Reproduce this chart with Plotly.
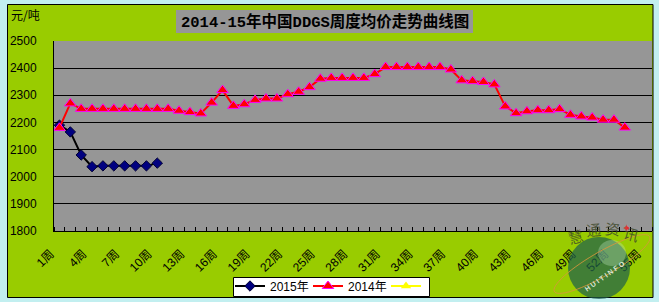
import numpy as np
import plotly.graph_objects as go

# ---------------- data ----------------
week_tickvals = [1, 4, 7, 10, 13, 16, 19, 22, 25, 28, 31, 34, 37, 40, 43, 46, 49, 52, 55]
week_ticktext = ["1周", "4周", "7周", "10周", "13周", "16周", "19周", "22周", "25周", "28周",
                 "31周", "34周", "37周", "40周", "43周", "46周", "49周", "52周", "55周"]

weeks_2015 = list(range(1, 11))
price_2015 = [2190, 2165, 2080, 2037, 2040, 2040, 2040, 2040, 2040, 2050]

weeks_2014 = list(range(1, 54))
price_2014 = [2180, 2270, 2250, 2250, 2250, 2250, 2250, 2250, 2250, 2250, 2250,
              2243, 2238, 2233, 2273, 2319, 2261, 2267, 2283, 2288, 2288, 2304,
              2313, 2330, 2361, 2364, 2364, 2364, 2364, 2378, 2404, 2404, 2404,
              2404, 2404, 2404, 2395, 2355, 2352, 2349, 2340, 2259, 2234, 2241,
              2245, 2245, 2249, 2228, 2222, 2218, 2210, 2210, 2181]

# third (unnamed, empty) series shown only in the legend
weeks_3 = [1]
price_3 = [None]

y_tickvals = [1800, 1900, 2000, 2100, 2200, 2300, 2400, 2500]
y_gridvals = [1900, 2000, 2100, 2200, 2300, 2400]

# ---------------- geometry ----------------
W, H = 659, 302
L, R, T, B = 54, 7, 41, 71
PW, PH = W - L - R, H - T - B


def px(x):
    return (x - L) / PW


def py(y):
    return (H - B - y) / PH


fig = go.Figure()

fig.add_trace(go.Scatter(
    x=weeks_2015, y=price_2015, mode="lines+markers", name="2015年",
    line=dict(color="black", width=2),
    marker=dict(symbol="diamond", size=8, color="#000080",
                line=dict(color="#000033", width=1)),
))
fig.add_trace(go.Scatter(
    x=weeks_2014, y=price_2014, mode="lines+markers", name="2014年",
    line=dict(color="#FF0000", width=2),
    marker=dict(symbol="triangle-up", size=10, color="#FF0000",
                line=dict(color="#FF00FF", width=1)),
))
fig.add_trace(go.Scatter(
    x=weeks_3, y=price_3, mode="lines+markers", name="",
    line=dict(color="#FFFF00", width=2),
    marker=dict(symbol="triangle-up", size=9, color="#FFFF00"),
))

shapes = [
    dict(type="rect", xref="paper", yref="paper", x0=px(7.5), x1=px(653),
         y0=py(297.5), y1=py(4.5), fillcolor="#99CC00",
         line=dict(color="black", width=1), layer="below"),
    dict(type="rect", xref="paper", yref="paper", x0=0, x1=1, y0=0, y1=1,
         fillcolor="#969696", line=dict(width=0), layer="below"),
    dict(type="rect", xref="paper", yref="paper", x0=px(176), x1=px(473),
         y0=py(33), y1=py(10), fillcolor="#969696", line=dict(width=0), layer="below"),
    # legend box
    dict(type="rect", xref="paper", yref="paper", x0=px(233.5), x1=px(429.5),
         y0=py(296.5), y1=py(277.5), fillcolor="white",
         line=dict(color="black", width=1), layer="above"),
]

# watermark globe
shapes.append(dict(type="circle", xref="paper", yref="paper",
                   x0=px(568), x1=px(630), y0=py(299), y1=py(237),
                   fillcolor="rgba(30,95,75,0.72)", line=dict(width=0), layer="above"))
shapes.append(dict(type="circle", xref="paper", yref="paper",
                   x0=px(598), x1=px(626), y0=py(266), y1=py(240),
                   fillcolor="rgba(190,225,190,0.35)", line=dict(width=0), layer="above"))
t = np.linspace(0, 2 * np.pi, 60)
th = np.deg2rad(30)
cx, cy, a, b = 602, 264, 55, 12
ex = cx + a * np.cos(t) * np.cos(th) - b * np.sin(t) * np.sin(th)
ey = cy - (a * np.cos(t) * np.sin(th) + b * np.sin(t) * np.cos(th))
path = "M " + " L ".join(f"{px(u):.4f},{py(v):.4f}" for u, v in zip(ex, ey)) + " Z"
shapes.append(dict(type="path", xref="paper", yref="paper", path=path,
                   line=dict(color="rgba(215,150,60,0.85)", width=1), layer="above"))

annotations = [
    dict(text="<b>2014-15年中国DDGS周度均价走势曲线图</b>", xref="paper", yref="paper",
         x=px(324.5), y=py(21.5), xanchor="center", yanchor="middle", showarrow=False,
         font=dict(family="Liberation Mono, Noto Sans CJK SC", size=15.5, color="black")),
    dict(text="元/吨", xref="paper", yref="paper", x=px(9), y=py(14.5),
         xanchor="left", yanchor="middle", showarrow=False,
         font=dict(family="Noto Sans CJK SC", size=12, color="black")),
]
for ch, (ux, uy, ang) in zip("慧通资讯", [(575, 236, -15), (593, 229, -5), (612, 228, 5), (631, 233, 15)]):
    annotations.append(dict(text=ch, xref="paper", yref="paper", x=px(ux), y=py(uy),
                            xanchor="center", yanchor="middle", showarrow=False, textangle=ang,
                            font=dict(family="Noto Sans CJK SC", size=15, color="rgba(60,70,40,0.8)")))
annotations.append(dict(text="<b>H U I T I N F O</b>", xref="paper", yref="paper",
                        x=px(604), y=py(276), xanchor="center", yanchor="middle",
                        showarrow=False, textangle=-35,
                        font=dict(family="Liberation Sans", size=7, color="rgba(235,245,235,0.9)")))
annotations.append(dict(text="✦", xref="paper", yref="paper", x=px(626), y=py(228),
                        xanchor="center", yanchor="middle", showarrow=False,
                        font=dict(family="DejaVu Sans", size=11, color="rgba(230,40,40,0.9)")))

fig.update_layout(
    width=W, height=H,
    margin=dict(l=L, r=R, t=T, b=B, pad=0, autoexpand=False),
    paper_bgcolor="#C2EFF0",
    plot_bgcolor="rgba(0,0,0,0)",
    shapes=shapes,
    annotations=annotations,
    showlegend=True,
    legend=dict(orientation="h", x=px(230), xanchor="left", y=py(271.5), yanchor="top",
                bgcolor="rgba(0,0,0,0)", borderwidth=0,
                entrywidth=33, entrywidthmode="pixels",
                font=dict(family="Liberation Sans, Noto Sans CJK SC", size=12, color="black"),
                itemclick=False, tracegroupgap=0),
    xaxis=dict(range=[0.5, 55.5], tickmode="array", tickvals=week_tickvals, ticktext=week_ticktext,
               ticks="", tickangle=-45, showgrid=False, zeroline=False,
               showline=True, linecolor="black", linewidth=1,
               ticklabelshift=-9, ticklabelstandoff=10,
               tickfont=dict(family="Liberation Sans, Noto Sans CJK SC", size=12, color="black"),
               minor=dict(tickmode="array", tickvals=[v + 0.5 for v in range(0, 56)],
                          ticks="inside", ticklen=4, tickcolor="black", tickwidth=1, showgrid=False)),
    yaxis=dict(range=[1800, 2500], tickmode="array", tickvals=y_tickvals,
               ticks="inside", ticklen=4, tickcolor="black", showgrid=False, zeroline=False,
               showline=True, linecolor="black", linewidth=1,
               ticklabelstandoff=14,
               tickfont=dict(family="Liberation Sans", size=12, color="black"),
               minor=dict(tickmode="array", tickvals=y_gridvals, showgrid=True,
                          gridcolor="black", gridwidth=1, ticks="")),
)

fig.write_html("out.html", config={"displayModeBar": False})
